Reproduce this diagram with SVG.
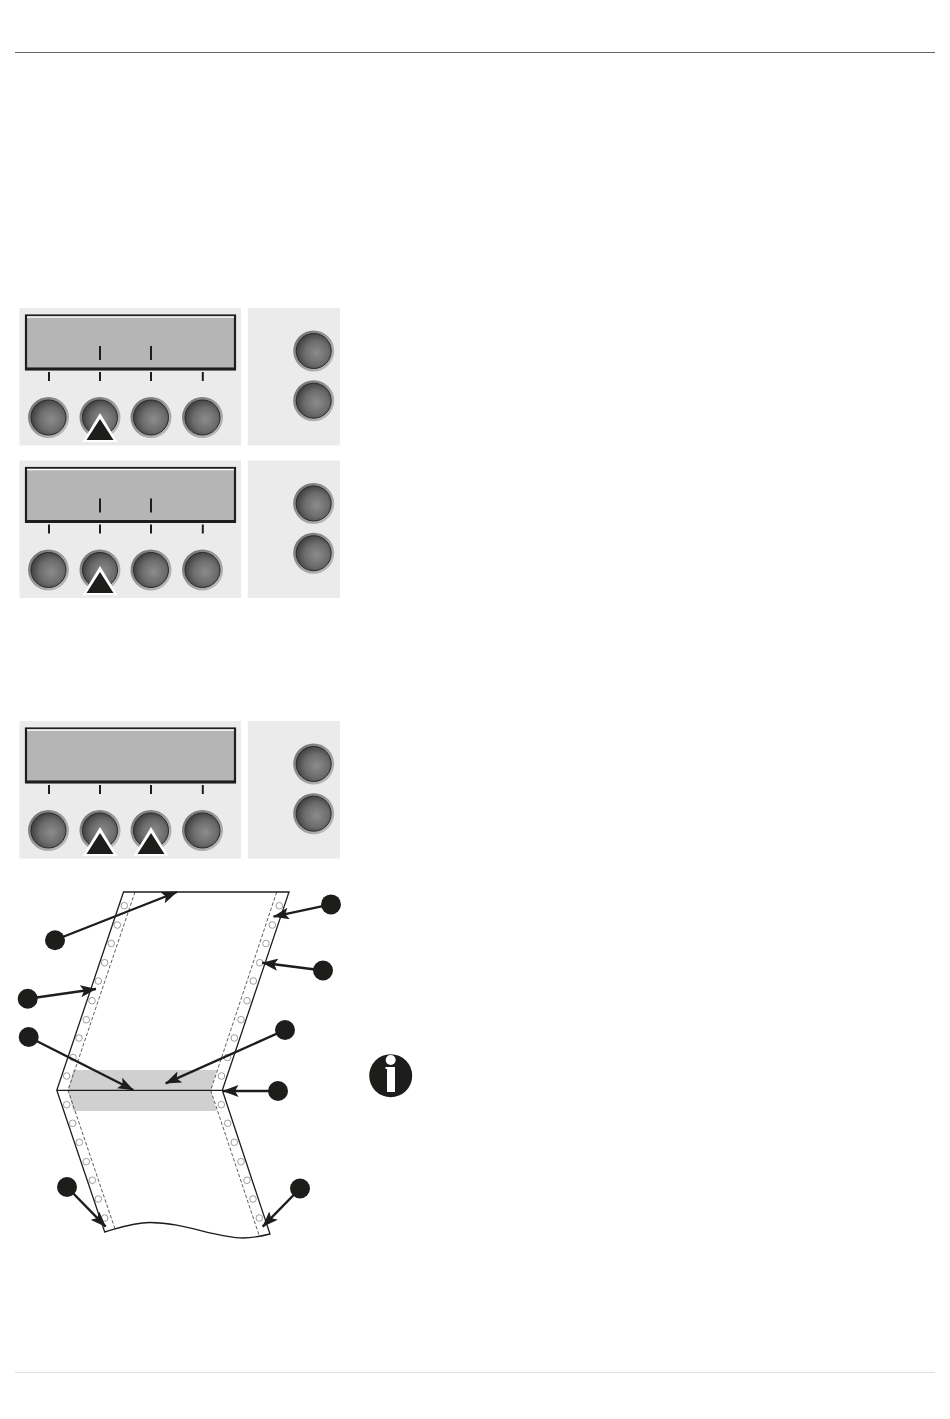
<svg xmlns="http://www.w3.org/2000/svg" width="950" height="1419" viewBox="0 0 950 1419">
<style>
.bg{fill:#ebebeb}
.tick{stroke:#1d1d1b;stroke-width:2;fill:none}
.edge{stroke:#1d1d1b;stroke-width:1.3;fill:none}
.perf{stroke:#333;stroke-width:.8;stroke-dasharray:3.500 2;fill:none}
.hole{fill:#fff;stroke:#888;stroke-width:.8}
.dot{fill:#1d1d1b}
.conn{stroke:#1d1d1b;stroke-width:2.400;fill:none;marker-end:url(#ah)}
</style>
<defs>
<radialGradient id="face" cx="58%" cy="55%" r="62%"><stop offset="0" stop-color="#8c8c8c"/><stop offset=".55" stop-color="#6c6c6c"/><stop offset="1" stop-color="#3a3a3a"/></radialGradient>
<linearGradient id="rim" x1="0" y1="0" x2="1" y2="1"><stop offset="0" stop-color="#6a6a6a"/><stop offset=".5" stop-color="#999"/><stop offset="1" stop-color="#c4c4c4"/></linearGradient>
<g id="btn"><circle r="20.500" fill="url(#rim)"/><circle r="17.500" fill="url(#face)" stroke="#2a2a2a" stroke-width="1"/></g>
<g id="tri"><path d="M0-29L17.500 0H-17.500Z" fill="#fff"/><path d="M0-23L13.500-2H-13.500Z" fill="#1d1d1b"/></g>
<g id="frame">
<rect class="bg" x="19.500" y="308" width="221.500" height="137.500"/>
<rect class="bg" x="247.800" y="308" width="92.200" height="137.500"/>
<rect x="26" y="315.500" width="209" height="53.500" fill="#b5b5b5" stroke="#1d1d1b" stroke-width="2.200"/>
<path d="M27 317H234" stroke="#fff" stroke-width="1.300" fill="none"/>
<path d="M25 369H236" stroke="#1d1d1b" stroke-width="3" fill="none"/>
<path class="tick" d="M49 372V381M100 372V381M151 372V381M202.800 372V381"/>
<use href="#btn" x="48.500" y="417.500"/><use href="#btn" x="100" y="417.500"/><use href="#btn" x="151" y="417.500"/><use href="#btn" x="202.500" y="417.500"/>
<use href="#btn" x="313.700" y="351"/><use href="#btn" x="313.700" y="400.700"/>
</g>
<marker id="ah" viewBox="0 0 16 12" refX="15.500" refY="6" markerWidth="16" markerHeight="12" markerUnits="userSpaceOnUse" orient="auto"><path d="M0 0L16 6L0 12L3.500 6Z" fill="#1d1d1b"/></marker>
</defs>
<g id="page-rules"><path d="M15 52.500H935" stroke="#666" stroke-width="1"/><path d="M15 1372.500H935" stroke="#e0e0e0" stroke-width="1"/></g>
<g id="panel-1"><use href="#frame"/><path class="tick" d="M100 346V360M151 346V360"/><use href="#tri" x="100" y="442"/></g>
<g id="panel-2"><use href="#frame" y="152.500"/><path class="tick" d="M100 498.500V512.500M151 498.500V512.500"/><use href="#tri" x="100" y="595"/></g>
<g id="panel-3"><use href="#frame" y="413"/><use href="#tri" x="100" y="856"/><use href="#tri" x="151" y="856"/></g>
<g id="paper">
<path d="M123.500 892H289L222.300 1090.300L270 1234C262 1236 253 1238 243 1238C215 1238 185 1222.500 150 1222.500C133 1222.500 119 1228 104.700 1232L56.800 1090.300Z" fill="#fff"/>
<path d="M73.300 1070H216.700L210.700 1090.300L216.700 1111H73.300L68 1090.300Z" fill="#d0d0d0"/>
<path class="perf" d="M135 892L68 1090.300L115 1229M276.700 892L210.700 1090.300L259.300 1236"/>
<g id="holes">
<circle class="hole" cx="124.300" cy="905.700" r="3.300"/><circle class="hole" cx="117.300" cy="925" r="3.300"/><circle class="hole" cx="111.300" cy="943.500" r="3.300"/><circle class="hole" cx="104.700" cy="962.700" r="3.300"/><circle class="hole" cx="98.300" cy="981" r="3.300"/><circle class="hole" cx="92" cy="1000.700" r="3.300"/><circle class="hole" cx="86.300" cy="1019.700" r="3.300"/><circle class="hole" cx="79" cy="1038" r="3.300"/><circle class="hole" cx="73" cy="1057.500" r="3.300"/><circle class="hole" cx="66.700" cy="1076" r="3.300"/>
<circle class="hole" cx="66.700" cy="1104.700" r="3.300"/><circle class="hole" cx="72.700" cy="1123.300" r="3.300"/><circle class="hole" cx="79.300" cy="1142.300" r="3.300"/><circle class="hole" cx="86.300" cy="1161.700" r="3.300"/><circle class="hole" cx="92.300" cy="1180.300" r="3.300"/><circle class="hole" cx="98.300" cy="1199" r="3.300"/><circle class="hole" cx="104.700" cy="1218" r="3.300"/>
<circle class="hole" cx="279.300" cy="905.700" r="3.300"/><circle class="hole" cx="272.300" cy="925" r="3.300"/><circle class="hole" cx="266" cy="943.500" r="3.300"/><circle class="hole" cx="259.700" cy="962.700" r="3.300"/><circle class="hole" cx="253.300" cy="981" r="3.300"/><circle class="hole" cx="247" cy="1000.700" r="3.300"/><circle class="hole" cx="241" cy="1019.700" r="3.300"/><circle class="hole" cx="234.300" cy="1038" r="3.300"/><circle class="hole" cx="227.500" cy="1057.500" r="3.300"/><circle class="hole" cx="221.500" cy="1076" r="3.300"/>
<circle class="hole" cx="221.300" cy="1104.700" r="3.300"/><circle class="hole" cx="227.700" cy="1123.300" r="3.300"/><circle class="hole" cx="234.300" cy="1142.300" r="3.300"/><circle class="hole" cx="241" cy="1161.700" r="3.300"/><circle class="hole" cx="247" cy="1180.300" r="3.300"/><circle class="hole" cx="253" cy="1199" r="3.300"/><circle class="hole" cx="259.300" cy="1218" r="3.300"/>
</g>
<path class="edge" d="M123.500 892H289L222.300 1090.300L270 1234C262 1236 253 1238 243 1238C215 1238 185 1222.500 150 1222.500C133 1222.500 119 1228 104.700 1232L56.800 1090.300ZM56.800 1090.300H222.300"/>
</g>
<g id="connectors">
<path class="conn" d="M55 940L177 892"/>
<path class="conn" d="M331 904.400L273.500 916.700"/>
<path class="conn" d="M323 970.500L262.300 962.700"/>
<path class="conn" d="M27.700 998.700L96 989"/>
<path class="conn" d="M28.700 1037L133.300 1090"/>
<path class="conn" d="M285 1030L165.700 1083.300"/>
<path class="conn" d="M278 1091H223"/>
<path class="conn" d="M67 1187L105.700 1226.700"/>
<path class="conn" d="M300 1188.500L262.700 1226.700"/>
</g>
<g id="callout-a"><circle class="dot" cx="55" cy="940.300" r="10"/></g>
<g id="callout-b"><circle class="dot" cx="331" cy="904.400" r="10"/></g>
<g id="callout-c"><circle class="dot" cx="323" cy="970.500" r="10"/></g>
<g id="callout-d"><circle class="dot" cx="27.700" cy="998.700" r="10"/></g>
<g id="callout-e"><circle class="dot" cx="28.700" cy="1037" r="10"/></g>
<g id="callout-f"><circle class="dot" cx="285" cy="1030" r="10"/></g>
<g id="callout-g"><circle class="dot" cx="278" cy="1091" r="10"/></g>
<g id="callout-h"><circle class="dot" cx="67" cy="1187" r="10"/></g>
<g id="callout-i"><circle class="dot" cx="300" cy="1188.500" r="10"/></g>
<g id="info-icon"><circle cx="390.700" cy="1075.700" r="21.500" fill="#1d1d1b"/><circle cx="390.700" cy="1060" r="5" fill="#fff"/><path d="M385.500 1067H395V1092H387V1069H385.500Z" fill="#fff"/></g>
</svg>
